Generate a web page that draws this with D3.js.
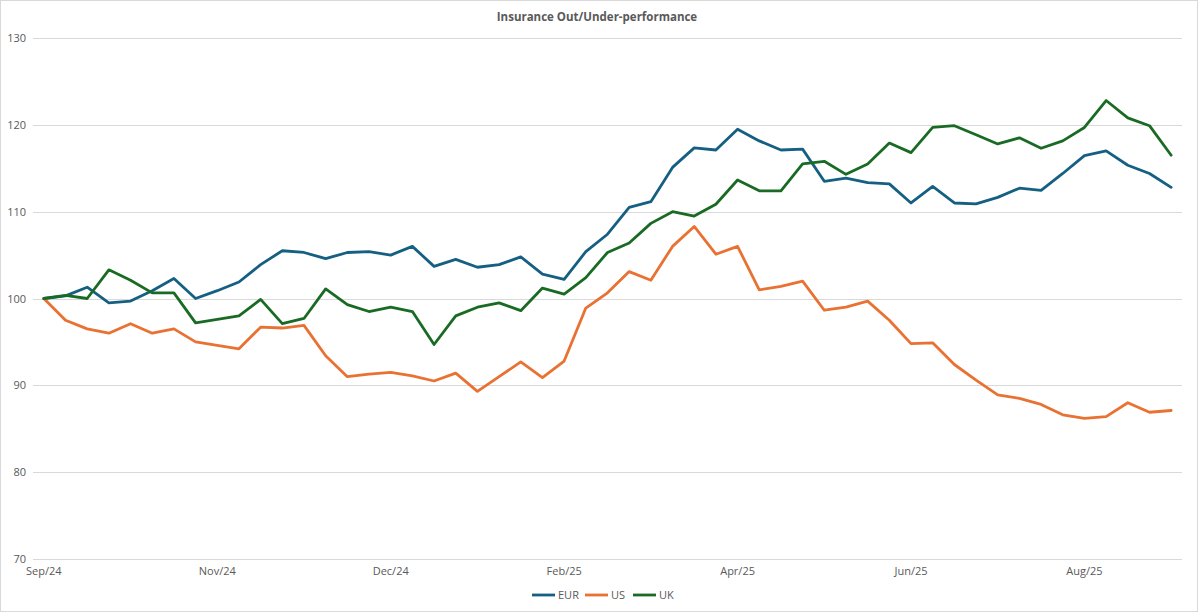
<!DOCTYPE html>
<html>
<head>
<meta charset="utf-8">
<script src="https://cdn.jsdelivr.net/npm/d3@7"></script>
<style>
  html, body { margin: 0; padding: 0; background: #fff; }
  svg { display: block; font-family: "Open Sans", "Liberation Sans", sans-serif; }
</style>
</head>
<body>
<svg id="chart" width="1200" height="613"></svg>
<script>
const title = "Insurance Out/Under-performance";
const seriesNames = ["EUR", "US", "UK"];
const seriesColors = ["#156082", "#E97132", "#196B24"];

const eur = [100.0, 100.3, 101.3, 99.5, 99.7, 100.9, 102.3, 100.0, 100.9, 101.9,
  103.9, 105.5, 105.3, 104.6, 105.3, 105.4, 105.0, 106.0, 103.7, 104.5,
  103.6, 103.9, 104.8, 102.8, 102.2, 105.4, 107.4, 110.5, 111.15, 115.1,
  117.35, 117.1, 119.5, 118.15, 117.1, 117.2, 113.5, 113.85, 113.35, 113.2,
  111.0, 112.9, 111.0, 110.9, 111.65, 112.7, 112.45, 114.4, 116.45, 117.0,
  115.35, 114.4, 112.8];
const us = [100.0, 97.5, 96.5, 96.0, 97.1, 96.0, 96.5, 95.0, 94.6, 94.2,
  96.7, 96.6, 96.9, 93.4, 91.0, 91.3, 91.5, 91.1, 90.5, 91.4,
  89.3, 91.0, 92.7, 90.9, 92.8, 98.9, 100.65, 103.1, 102.1, 106.0,
  108.3, 105.1, 106.0, 101.0, 101.4, 102.0, 98.65, 99.0, 99.7, 97.5,
  94.8, 94.9, 92.4, 90.6, 88.9, 88.5, 87.8, 86.6, 86.2, 86.4,
  88.0, 86.9, 87.1];
const uk = [100.0, 100.35, 100.0, 103.3, 102.1, 100.65, 100.65, 97.2, 97.6, 98.0,
  99.9, 97.1, 97.7, 101.1, 99.3, 98.5, 99.0, 98.5, 94.7, 98.0,
  99.0, 99.5, 98.6, 101.2, 100.5, 102.4, 105.3, 106.4, 108.65, 110.0,
  109.5, 110.85, 113.65, 112.4, 112.4, 115.5, 115.8, 114.3, 115.5, 117.9,
  116.8, 119.7, 119.9, 118.85, 117.8, 118.5, 117.3, 118.15, 119.7, 122.8,
  120.8, 119.9, 116.5];

// x-axis category labels: shown on every 8th weekly category
const tickLabels = ["Sep/24", "Nov/24", "Dec/24", "Feb/25", "Apr/25", "Jun/25", "Aug/25"];
const labelEvery = 8;
const yTicks = [70, 80, 90, 100, 110, 120, 130];

const allSeries = [eur, us, uk];
const categories = d3.range(eur.length);

const svg = d3.select("#chart");
const W = 1200, H = 613;
const plot = { left: 33, right: 1182, top: 38, bottom: 559 };

// border
svg.append("rect")
  .attr("x", 0.5).attr("y", 0.5)
  .attr("width", W - 3).attr("height", H - 2)
  .attr("fill", "#fff").attr("stroke", "#d9d9d9");

const x = d3.scaleBand().domain(categories).range([plot.left, plot.right]).padding(0);
const xc = i => x(i) + x.bandwidth() / 2;
const y = d3.scaleLinear().domain([70, 130]).range([plot.bottom, plot.top]);

// gridlines
svg.append("g").selectAll("line").data(yTicks).join("line")
  .attr("x1", plot.left).attr("x2", plot.right)
  .attr("y1", d => Math.round(y(d)) + 0.5).attr("y2", d => Math.round(y(d)) + 0.5)
  .attr("stroke", "#d9d9d9").attr("stroke-width", 1);

// y axis labels
const yAxis = d3.axisLeft(y).tickValues(yTicks).tickSize(0).tickPadding(7);
const gy = svg.append("g").attr("transform", `translate(${plot.left},0)`).call(yAxis);
gy.select(".domain").remove();
gy.selectAll("text").attr("fill", "#595959").style("font-size", "11px")
  .style("font-family", "'Open Sans', 'Liberation Sans', sans-serif");

// x axis labels
const labelIdx = tickLabels.map((_, k) => k * labelEvery);
const xAxis = d3.axisBottom(x).tickValues(labelIdx)
  .tickFormat(d => tickLabels[d / labelEvery]).tickSize(0).tickPadding(8);
const gx = svg.append("g").attr("transform", `translate(0,${plot.bottom})`).call(xAxis);
gx.select(".domain").remove();
gx.selectAll("text").attr("fill", "#595959").style("font-size", "11px")
  .style("font-family", "'Open Sans', 'Liberation Sans', sans-serif");

// lines
const line = d3.line().x((d, i) => xc(i)).y(d => y(d));
svg.append("g").selectAll("path").data(allSeries).join("path")
  .attr("d", d => line(d))
  .attr("fill", "none")
  .attr("stroke", (d, i) => seriesColors[i])
  .attr("stroke-width", 2.8)
  .attr("stroke-linejoin", "round")
  .attr("stroke-linecap", "round");

// title
svg.append("text")
  .attr("x", 597).attr("y", 21)
  .attr("text-anchor", "middle")
  .attr("fill", "#595959")
  .style("font-size", "11.5px").style("font-weight", "bold")
  .text(title);

// legend
const legendX = [532, 585, 633];
const lg = svg.append("g").selectAll("g").data(seriesNames).join("g")
  .attr("transform", (d, i) => `translate(${legendX[i]},595)`);
lg.append("line").attr("x1", 0).attr("x2", 23).attr("y1", 0).attr("y2", 0)
  .attr("stroke", (d, i) => seriesColors[i]).attr("stroke-width", 2.8);
lg.append("text").attr("x", 26).attr("y", 4)
  .attr("fill", "#595959").style("font-size", "11px")
  .text(d => d);
</script>
</body>
</html>
